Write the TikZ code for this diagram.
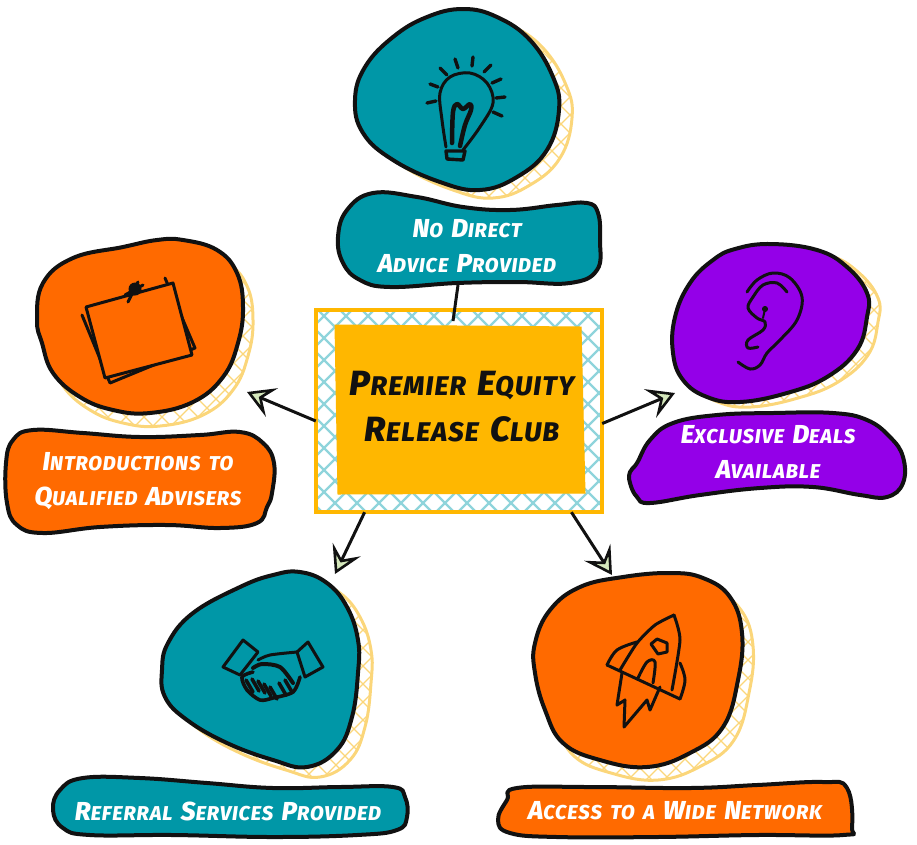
\documentclass[tikz,border=0pt]{standalone}
\usepackage{fontspec}
\usetikzlibrary{arrows.meta}
\setmainfont{Fira Sans}
\newfontfamily\markerfont{Fira Sans ExtraBold Italic}[LetterSpace=4.5, WordSpace=1.6]
\definecolor{tealblob}{HTML}{0097A7}
\definecolor{orangeblob}{HTML}{FF6A00}
\definecolor{purpleblob}{HTML}{9400E8}
\definecolor{amberbox}{HTML}{FFB700}
\definecolor{shadowyellow}{HTML}{FBD67A}
\definecolor{hatchteal}{HTML}{8FD4DB}
\definecolor{tipgreen}{HTML}{D5E8BC}
\definecolor{inkblack}{HTML}{111111}
% small capitals written by hand: first letter and rest of the word
\newcommand{\capw}[2]{{\fontsize{26}{35}\selectfont #1}\MakeUppercase{#2}}
\newcommand{\capz}[2]{{\fontsize{35}{46}\selectfont #1}\MakeUppercase{#2}}
\tikzset{
    ink/.style={draw=inkblack, line width=4pt, line cap=round, line join=round},
    iconline/.style={draw=inkblack, line width=3pt, line cap=round, line join=round},
    hatchline/.style={draw=shadowyellow, line width=1.3pt},
    caption/.style={text=white, font=\markerfont\fontsize{20}{35}\selectfont, align=center, inner sep=0pt},
    clubcaption/.style={text=inkblack, font=\markerfont\fontsize{27}{46}\selectfont, align=center, inner sep=0pt},
    arrowline/.style={draw=inkblack, line width=3pt,
        -{Stealth[length=27pt, width=31pt, inset=11pt, fill=tipgreen, line width=2.6pt]}},
}
% yellow hatched shadow lying behind a blob
\newcommand{\shadowblob}[2]{
    \begin{scope}[shift={(#1)}]
        \begin{scope}
            \clip plot[smooth cycle, tension=0.7] coordinates {#2};
            \foreach \d in {-900,-882,...,920} {
                \draw[hatchline] (\d,0) -- ++(844,844);
                \draw[hatchline] (\d,844) -- ++(844,-844);
            }
        \end{scope}
        \draw[draw=shadowyellow, line width=3pt] plot[smooth cycle, tension=0.7] coordinates {#2};
    \end{scope}
}
% coloured shape with a black outline
\newcommand{\inkblob}[2]{
    \draw[ink, fill=#1] plot[smooth cycle, tension=0.7] coordinates {#2};
}
\begin{document}
\begin{tikzpicture}[x=1pt, y=-1pt]
    \useasboundingbox (0,0) rectangle (917,844);

    % shadows
    \shadowblob{13,8}{(463,9)(497,17)(530,40)(553,77)(559,110)(547,150)(517,177)(480,190)(440,182)(393,160)(363,133)(355,100)(365,67)(393,37)(427,17)}
    \shadowblob{10,13}{(183,240)(217,250)(237,273)(243,307)(238,343)(223,377)(193,402)(150,413)(113,410)(80,397)(53,373)(42,343)(37,320)(43,283)(73,258)(123,247)(157,240)}
    \shadowblob{11,5}{(770,244)(817,250)(847,267)(867,293)(867,317)(857,350)(827,377)(787,393)(740,402)(707,397)(683,380)(673,353)(675,317)(690,283)(713,260)(735,249)}
    \shadowblob{13,10}{(300,572)(327,583)(347,607)(358,640)(358,673)(352,717)(337,750)(307,767)(273,760)(227,743)(187,720)(165,697)(162,670)(168,643)(193,613)(240,587)(273,575)}
    \shadowblob{11,13}{(670,573)(703,578)(730,597)(742,633)(738,680)(723,727)(690,753)(647,767)(600,760)(563,743)(545,710)(535,673)(535,643)(550,610)(580,587)(623,577)}

    % round blobs
    \inkblob{tealblob}{(463,9)(497,17)(530,40)(553,77)(559,110)(547,150)(517,177)(480,190)(440,182)(393,160)(363,133)(355,100)(365,67)(393,37)(427,17)}
    \inkblob{orangeblob}{(183,240)(217,250)(237,273)(243,307)(238,343)(223,377)(193,402)(150,413)(113,410)(80,397)(53,373)(42,343)(37,320)(43,283)(73,258)(123,247)(157,240)}
    \inkblob{purpleblob}{(770,244)(817,250)(847,267)(867,293)(867,317)(857,350)(827,377)(787,393)(740,402)(707,397)(683,380)(673,353)(675,317)(690,283)(713,260)(735,249)}
    \inkblob{tealblob}{(300,572)(327,583)(347,607)(358,640)(358,673)(352,717)(337,750)(307,767)(273,760)(227,743)(187,720)(165,697)(162,670)(168,643)(193,613)(240,587)(273,575)}
    \inkblob{orangeblob}{(670,573)(703,578)(730,597)(742,633)(738,680)(723,727)(690,753)(647,767)(600,760)(563,743)(545,710)(535,673)(535,643)(550,610)(580,587)(623,577)}

    % caption shapes
    \inkblob{tealblob}{(373,193)(417,197)(463,207)(510,210)(557,205)(587,203)(598,213)(600,240)(597,270)(570,283)(517,282)(457,283)(390,287)(360,280)(343,263)(338,237)(347,210)}
    \inkblob{orangeblob}{(33,430)(83,433)(140,437)(200,435)(240,432)(263,443)(274,463)(272,493)(267,507)(257,523)(220,528)(167,525)(100,527)(43,533)(17,525)(7,503)(6,463)(13,440)}
    \inkblob{purpleblob}{(637,463)(650,440)(673,423)(717,415)(773,413)(833,413)(867,420)(890,437)(903,457)(903,483)(887,497)(860,495)(813,487)(760,488)(700,495)(650,503)(637,497)(630,483)(630,472)}
    \inkblob{tealblob}{(83,778)(140,778)(207,783)(273,788)(340,787)(393,787)(405,797)(407,817)(397,830)(357,835)(273,837)(173,835)(90,835)(63,828)(53,810)(60,790)}
    \inkblob{orangeblob}{(517,788)(590,787)(690,788)(757,785)(823,782)(847,788)(852,827)(843,835)(757,835)(657,837)(557,837)(510,833)(498,820)(507,800)}

    % centre box
    \node (club) [rectangle, minimum width=286pt, minimum height=202pt, inner sep=0pt] at (459,411) {};
    \begin{scope}
        \clip (club.south west) rectangle (club.north east);
        \foreach \d in {-220,-198,...,620} {
            \draw[hatchteal, line width=2.2pt] (\d,300) -- ++(230,230);
            \draw[hatchteal, line width=2.2pt] (\d,530) -- ++(230,-230);
        }
    \end{scope}
    \draw[amberbox, line width=4pt] (club.south west) rectangle (club.north east);
    \draw[amberbox, fill=amberbox, line width=1pt] (335,325) -- (581,327) -- (585,493) -- (338,494) -- cycle;

    % connectors
    \coordinate (clubTop) at (453,321);
    \coordinate (noDirectEnd) at (458,285);
    \coordinate (introTip) at (247,392);
    \coordinate (dealsTip) at (675,393);
    \coordinate (referralTip) at (335,574);
    \coordinate (accessTip) at (612,575);
    \draw[draw=inkblack, line width=3pt] (clubTop) -- (noDirectEnd);
    \draw[arrowline] (club.184) -- (introTip);
    \draw[arrowline] (club.-5) -- (dealsTip);
    \draw[arrowline] (club.227.5) -- (referralTip);
    \draw[arrowline] (club.-42.5) -- (accessTip);

    % bulb
    \foreach \a/\b/\c/\e in {427/103/436/101, 430/84/438/87, 440/68/447/75, 455/59/458/68, 473/57/472/66, 491/65/484/72, 501/79/492/83, 505/97/496/98, 502/116/493/112}
        \draw[iconline, line width=3.4pt] (\a,\b) -- (\c,\e);
    \draw[iconline] plot[smooth, tension=0.6] coordinates {(446,147)(442,120)(440,93)(450,77)(470,73)(487,83)(493,103)(480,127)(463,150)};
    \draw[iconline, line width=3.4pt] (446,151) -- (447,159) -- (463,160) -- (465,151) -- cycle;
    \draw[iconline, line width=4.5pt] plot[smooth, tension=0.6] coordinates {(452,143)(453,112)(457,104)(463,109)(470,104)(471,110)(465,125)(460,146)};

    % note
    \draw[iconline] (82,315) -- (110,383) -- (195,348) -- (165,278);
    \draw[iconline, fill=orangeblob] (86,307) -- (173,283) -- (192,355) -- (105,378) -- cycle;
    \fill[inkblack] (135,289) circle (6.5pt);
    \draw[iconline] (125,295) -- (143,285) (128,302) -- (138,282);

    % ear
    \draw[iconline] plot[smooth, tension=0.6] coordinates {(747,292)(757,280)(773,273)(790,278)(802,297)(797,320)(780,340)(767,353)(760,365)(750,369)(738,362)};
    \draw[iconline] plot[smooth, tension=0.6] coordinates {(787,292)(777,283)(763,285)(753,297)(748,308)(757,318)(765,322)(763,330)(748,340)(748,348)(758,347)};
    \draw[iconline, line width=2pt] (765,309) circle (2pt) -- (763,318);

    % handshake
    \draw[iconline] (223,667) -- (243,640) -- (258,652) -- (240,675) -- cycle;
    \draw[iconline] (297,652) -- (308,642) -- (323,667) -- (305,677) -- cycle;
    \draw[iconline] plot[smooth, tension=0.5] coordinates {(258,660)(270,655)(297,652)};
    \draw[iconline, line width=4pt] plot[smooth, tension=0.5] coordinates {(253,668)(262,664)(280,667)(293,683)};
    \draw[iconline, line width=3.6pt] plot[smooth, tension=0.5] coordinates {(300,677)(293,692)(273,698)(260,700)(247,690)(242,677)(253,672)};
    \foreach \a/\b in {246/680, 252/679, 258/681, 264/684, 270/687, 279/683, 285/680}
        \draw[iconline, line width=3.6pt] (\a,\b) -- ++(7,12);

    % rocket
    \draw[iconline] plot[smooth, tension=0.4] coordinates {(674,615)(655,625)(637,643)(620,670)};
    \draw[iconline] plot[smooth, tension=0.4] coordinates {(674,615)(680,640)(672,690)};
    \draw[iconline] (607,665) -- (680,699);
    \draw[iconline] plot[smooth, tension=0.6] coordinates {(607,665)(617,650)(637,642)};
    \draw[iconline] plot[smooth, tension=0.6] coordinates {(680,663)(685,680)(680,699)};
    \draw[iconline] (651,644) -- (657,639) -- (667,643) -- (667,652) -- (658,654) -- cycle;
    \draw[iconline] plot[smooth, tension=0.6] coordinates {(638,678)(647,662)(655,662)(653,683)};
    \draw[iconline] (622,673) -- (617,705) -- (625,700) -- (624,727) -- (647,700) -- (650,710) -- (660,687);

    % labels
    \node (noDirect) [caption] at (467,246) {\capw{N}{o} \capw{D}{irect}\\\capw{A}{dvice} \capw{P}{rovided}};
    \node (intro) [caption] at (138,481) {\capw{I}{ntroductions} TO\\\capw{Q}{ualified} \capw{A}{dvisers}};
    \node (deals) [caption] at (768,452) {\capw{E}{xclusive} \capw{D}{eals}\\\capw{A}{vailable}};
    \node (referral) [caption] at (228,811) {\capw{R}{eferral} \capw{S}{ervices} \capw{P}{rovided}};
    \node (access) [caption] at (675,811) {\capw{A}{ccess} TO A \capw{W}{ide} \capw{N}{etwork}};
    \node (clubText) [clubcaption] at (462,407) {\capz{P}{remier} \capz{E}{quity}\\\capz{R}{elease} \capz{C}{lub}};
\end{tikzpicture}
\end{document}
